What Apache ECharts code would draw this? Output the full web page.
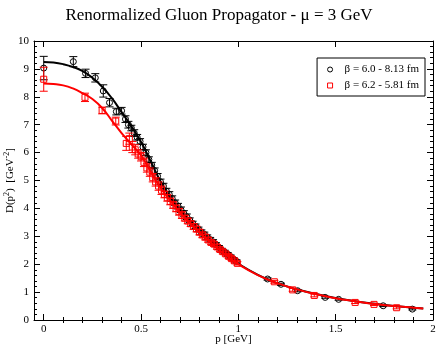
<!DOCTYPE html>
<html>
<head>
<meta charset="utf-8">
<script src="https://cdn.jsdelivr.net/npm/echarts@6/dist/echarts.min.js"></script>
<style>
  html, body { margin: 0; padding: 0; background: #fff; }
  #chart { width: 438px; height: 346px; }
</style>
</head>
<body>
<div id="chart"></div>
<script>
// tick positions
const majorX = [0, 0.5, 1, 1.5, 2];
const minorX = [0.1, 0.2, 0.3, 0.4, 0.6, 0.7, 0.8, 0.9, 1.1, 1.2, 1.3, 1.4, 1.6, 1.7, 1.8, 1.9];

// beta = 6.0 lattice data (p, D, error)
const pB = [0, 0.152, 0.215, 0.265, 0.306, 0.338, 0.373, 0.4, 0.42, 0.435, 0.45, 0.465, 0.48, 0.495,
  0.51, 0.525, 0.54, 0.555, 0.57, 0.585, 0.6, 0.615, 0.63, 0.645, 0.66, 0.675, 0.69, 0.705, 0.72,
  0.735, 0.75, 0.765, 0.78, 0.795, 0.81, 0.825, 0.84, 0.855, 0.87, 0.885, 0.9, 0.915, 0.93, 0.945,
  0.96, 0.975, 0.99, 1.15, 1.219, 1.304, 1.446, 1.515, 1.744, 1.894];
const dB = [9.03, 9.26, 8.84, 8.68, 8.21, 7.79, 7.47, 7.5, 7.2, 7.0, 6.88, 6.7, 6.55, 6.4,
  6.2, 6.0, 5.75, 5.55, 5.35, 5.15, 4.95, 4.8, 4.62, 4.5, 4.35, 4.2, 4.08, 3.95, 3.82,
  3.7, 3.58, 3.46, 3.36, 3.25, 3.15, 3.07, 2.97, 2.88, 2.8, 2.7, 2.6, 2.5, 2.43, 2.35,
  2.27, 2.18, 2.1, 1.47, 1.28, 1.05, 0.81, 0.74, 0.51, 0.39];
const eB = [0.42, 0.18, 0.15, 0.15, 0.22, 0.15, 0.12, 0.12, 0.12, 0.12, 0.1, 0.12, 0.1, 0.1,
  0.1, 0.1, 0.1, 0.1, 0.1, 0.1, 0.1, 0.1, 0.1, 0.1, 0.1, 0.1, 0.1, 0.1, 0.1,
  0.1, 0.08, 0.08, 0.08, 0.08, 0.08, 0.08, 0.08, 0.08, 0.08, 0.07, 0.07, 0.07, 0.07, 0.07,
  0.06, 0.06, 0.06, 0.04, 0.04, 0.04, 0.03, 0.03, 0.03, 0.03];

// beta = 6.2 lattice data (p, D, error)
const pR = [0, 0.212, 0.3, 0.37, 0.424, 0.44, 0.455, 0.47, 0.485, 0.5, 0.515, 0.53, 0.545, 0.56,
  0.575, 0.59, 0.605, 0.62, 0.635, 0.65, 0.665, 0.68, 0.695, 0.71, 0.725, 0.74, 0.755, 0.77,
  0.785, 0.8, 0.815, 0.83, 0.845, 0.86, 0.875, 0.89, 0.905, 0.92, 0.935, 0.95, 0.965, 0.98,
  0.995, 1.185, 1.279, 1.39, 1.6, 1.697, 1.813];
const dR = [8.63, 7.98, 7.51, 7.13, 6.33, 6.5, 6.2, 6.1, 5.95, 5.85, 5.65, 5.45, 5.3, 5.1,
  4.95, 4.8, 4.65, 4.5, 4.38, 4.25, 4.12, 4.0, 3.88, 3.76, 3.65, 3.55, 3.45, 3.35,
  3.26, 3.15, 3.05, 2.97, 2.87, 2.78, 2.72, 2.62, 2.53, 2.45, 2.37, 2.28, 2.2, 2.12,
  2.03, 1.37, 1.08, 0.88, 0.63, 0.56, 0.44];
const eR = [0.43, 0.15, 0.12, 0.14, 0.25, 0.2, 0.2, 0.18, 0.15, 0.15, 0.15, 0.15, 0.15, 0.15,
  0.15, 0.15, 0.15, 0.12, 0.12, 0.12, 0.12, 0.12, 0.12, 0.12, 0.1, 0.1, 0.1, 0.1,
  0.1, 0.1, 0.1, 0.1, 0.08, 0.08, 0.08, 0.08, 0.08, 0.08, 0.07, 0.07, 0.07, 0.07,
  0.06, 0.05, 0.05, 0.05, 0.04, 0.04, 0.04];

// fit curves
const fitP = [0, 0.05, 0.1, 0.15, 0.2, 0.25, 0.3, 0.35, 0.4, 0.45, 0.5, 0.55, 0.6, 0.65, 0.7, 0.75,
  0.8, 0.85, 0.9, 0.95, 1.0, 1.1, 1.2, 1.3, 1.4, 1.5, 1.6, 1.7, 1.8, 1.9, 1.95];
const fitB = [9.25, 9.23, 9.17, 9.07, 8.92, 8.68, 8.36, 7.95, 7.45, 6.95, 6.38, 5.68, 4.97, 4.4, 3.93, 3.55,
  3.2, 2.88, 2.56, 2.28, 2.02, 1.62, 1.32, 1.1, 0.93, 0.79, 0.67, 0.58, 0.5, 0.44, 0.41];
const fitR = [8.48, 8.46, 8.41, 8.3, 8.13, 7.92, 7.6, 7.15, 6.7, 6.3, 5.9, 5.32, 4.75, 4.28, 3.85, 3.48,
  3.14, 2.83, 2.53, 2.26, 2.0, 1.61, 1.32, 1.1, 0.92, 0.78, 0.67, 0.57, 0.5, 0.44, 0.41];

const serif = "'Liberation Serif', 'DejaVu Serif', serif";
const zip = (xs, ys) => xs.map((x, i) => [x, ys[i]]);
const zip3 = (xs, ys, es) => xs.map((x, i) => [x, ys[i], es[i]]);

// vertical error bar with caps
const errBar = (color) => (params, api) => {
  const x = api.value(0), y = api.value(1), e = api.value(2);
  const hi = api.coord([x, y + e]);
  const lo = api.coord([x, y - e]);
  const w = 4;
  const st = { stroke: color, lineWidth: 1 };
  return {
    type: "group",
    children: [
      { type: "line", shape: { x1: hi[0], y1: hi[1], x2: lo[0], y2: lo[1] }, style: st },
      { type: "line", shape: { x1: hi[0] - w, y1: hi[1], x2: hi[0] + w, y2: hi[1] }, style: st },
      { type: "line", shape: { x1: lo[0] - w, y1: lo[1], x2: lo[0] + w, y2: lo[1] }, style: st },
    ],
  };
};

const xBase = { type: "value", min: -0.05, max: 2, splitLine: { show: false } };
const chart = echarts.init(document.getElementById("chart"));
chart.setOption({
  animation: false,
  title: {
    text: "Renormalized Gluon Propagator - \u03bc = 3 GeV",
    left: "center",
    top: 2,
    textStyle: { fontFamily: serif, fontSize: 17, fontWeight: "normal", color: "#000" },
  },
  legend: {
    orient: "vertical",
    right: 13,
    top: 58,
    padding: [6, 6, 5, 10],
    itemGap: 5,
    itemWidth: 5,
    itemHeight: 5,
    borderColor: "#000",
    borderWidth: 1,
    itemStyle: { borderWidth: 1 },
    textStyle: { fontFamily: serif, fontSize: 11, color: "#000", padding: [0, 0, 0, 7] },
    data: [
      { name: "\u03b2 = 6.0 - 8.13 fm", icon: "circle" },
      { name: "\u03b2 = 6.2 - 5.81 fm", icon: "rect" },
    ],
  },
  grid: { left: 34, right: 5, top: 41, bottom: 26, outerBoundsMode: "none" },
  xAxis: [
    Object.assign({}, xBase, {
      position: "bottom",
      name: "p [GeV]",
      nameLocation: "middle",
      nameGap: 14,
      nameMoveOverlap: false,
      nameTextStyle: { fontFamily: serif, fontSize: 11, color: "#000" },
      axisLine: { show: true, onZero: false, lineStyle: { color: "#000" } },
      axisTick: { inside: true, length: 6, customValues: majorX, lineStyle: { color: "#000" } },
      axisLabel: { customValues: majorX, fontFamily: serif, fontSize: 11, color: "#000", margin: 4 },
    }),
    Object.assign({}, xBase, {
      position: "bottom",
      axisLine: { show: false },
      axisTick: { inside: true, length: 3, customValues: minorX, lineStyle: { color: "#000" } },
      axisLabel: { show: false },
    }),
    Object.assign({}, xBase, {
      position: "top",
      axisLine: { show: true, onZero: false, lineStyle: { color: "#000" } },
      axisTick: { inside: true, length: 6, customValues: majorX, lineStyle: { color: "#000" } },
      axisLabel: { show: false },
    }),
    Object.assign({}, xBase, {
      position: "top",
      axisLine: { show: false },
      axisTick: { inside: true, length: 3, customValues: minorX, lineStyle: { color: "#000" } },
      axisLabel: { show: false },
    }),
  ],
  yAxis: [
    {
      type: "value",
      min: 0,
      max: 10,
      interval: 1,
      position: "left",
      name: "{a|D(p}{s|2}{a|)  [GeV}{s|-2}{a|]}",
      nameLocation: "middle",
      nameGap: 17,
      nameRotate: 90,
      nameMoveOverlap: false,
      nameTextStyle: {
        rich: {
          a: { fontFamily: serif, fontSize: 11, color: "#000" },
          s: { fontFamily: serif, fontSize: 8, color: "#000", padding: [0, 0, 6, 0] },
        },
      },
      splitLine: { show: false },
      axisLine: { show: true, onZero: false, lineStyle: { color: "#000" } },
      axisTick: { inside: true, length: 6, lineStyle: { color: "#000" } },
      minorTick: { show: true, splitNumber: 5, length: 3, lineStyle: { color: "#000" } },
      axisLabel: { fontFamily: serif, fontSize: 11, color: "#000", margin: 5 },
    },
    {
      type: "value",
      min: 0,
      max: 10,
      interval: 1,
      position: "right",
      splitLine: { show: false },
      axisLine: { show: true, onZero: false, lineStyle: { color: "#000" } },
      axisTick: { inside: true, length: 6, lineStyle: { color: "#000" } },
      minorTick: { show: true, splitNumber: 5, length: 3, lineStyle: { color: "#000" } },
      axisLabel: { show: false },
    },
  ],
  series: [
    {
      type: "line",
      data: zip(fitP, fitB),
      showSymbol: false,
      smooth: true,
      lineStyle: { color: "#000", width: 2 },
      z: 2,
    },
    {
      type: "custom",
      data: zip3(pB, dB, eB),
      renderItem: errBar("#000"),
      z: 3,
    },
    {
      name: "\u03b2 = 6.0 - 8.13 fm",
      type: "scatter",
      data: zip(pB, dB),
      symbol: "circle",
      symbolSize: 6,
      itemStyle: { color: "rgba(0,0,0,0)", borderColor: "#000", borderWidth: 1, opacity: 1 },
      z: 3,
    },
    {
      type: "line",
      data: zip(fitP, fitR),
      showSymbol: false,
      smooth: true,
      lineStyle: { color: "#ff0000", width: 2 },
      z: 4,
    },
    {
      type: "custom",
      data: zip3(pR, dR, eR),
      renderItem: errBar("#ff0000"),
      z: 5,
    },
    {
      name: "\u03b2 = 6.2 - 5.81 fm",
      type: "scatter",
      data: zip(pR, dR),
      symbol: "rect",
      symbolSize: 6,
      itemStyle: { color: "rgba(0,0,0,0)", borderColor: "#ff0000", borderWidth: 1, opacity: 1 },
      z: 5,
    },
  ],
});
</script>
</body>
</html>
